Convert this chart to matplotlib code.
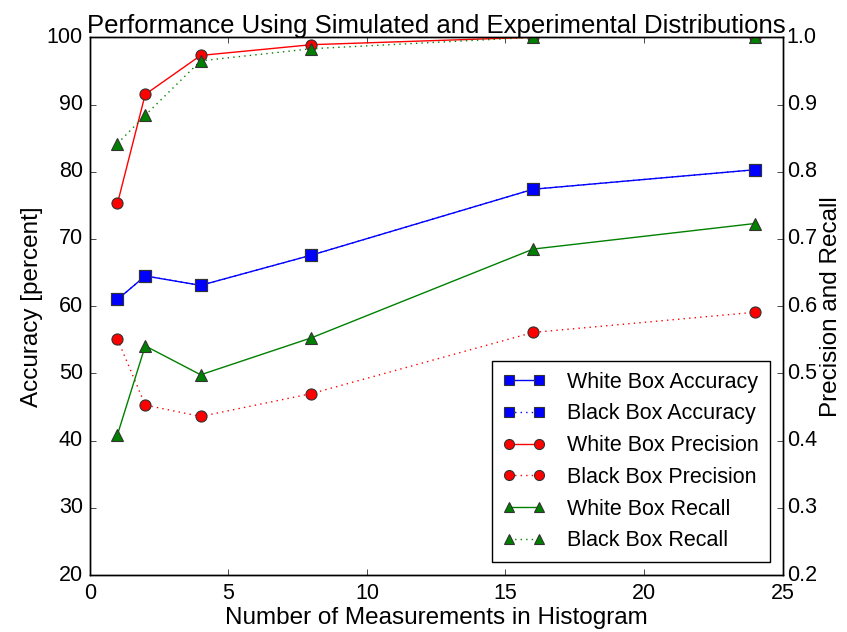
import matplotlib
matplotlib.use('Agg')
import matplotlib.pyplot as plt

plt.style.use('classic')
plt.rcParams['font.family'] = ['Liberation Sans', 'DejaVu Sans']

# number of measurements per histogram
n_meas = [1, 2, 4, 8, 16, 24]

# accuracy in percent (left axis)
wb_acc = [61.0, 64.5, 63.1, 67.6, 77.4, 80.3]
bb_acc = [61.0, 64.5, 63.1, 67.6, 77.4, 80.3]

# precision / recall (right axis)
wb_prec = [0.753, 0.915, 0.973, 0.989, 1.0, 1.0]
bb_prec = [0.551, 0.453, 0.436, 0.470, 0.561, 0.591]
wb_rec = [0.409, 0.541, 0.498, 0.553, 0.685, 0.723]
bb_rec = [0.842, 0.884, 0.965, 0.983, 1.0, 1.0]

fig = plt.figure(figsize=(8.47, 6.32), dpi=100, facecolor='white')
ax = fig.add_axes([0.106, 0.090, 0.818, 0.851])
ax2 = ax.twinx()

mk = dict(markersize=8, markeredgecolor='#333333', markeredgewidth=0.8)
h1, = ax.plot(n_meas, wb_acc, 'b-', marker='s', label='White Box Accuracy', **mk)
h2, = ax.plot(n_meas, bb_acc, 'b:', marker='s', label='Black Box Accuracy', **mk)
h3, = ax2.plot(n_meas, wb_prec, 'r-', marker='o', label='White Box Precision', **mk)
h4, = ax2.plot(n_meas, bb_prec, 'r:', marker='o', label='Black Box Precision', **mk)
h5, = ax2.plot(n_meas, wb_rec, 'g-', marker='^', label='White Box Recall', **mk)
h6, = ax2.plot(n_meas, bb_rec, 'g:', marker='^', label='Black Box Recall', **mk)

ax.set_xlim(0, 25)
ax.set_ylim(20, 100)
ax2.set_ylim(0.2, 1.0)

ax.tick_params(axis='y', labelsize=15.5, pad=5)
ax.tick_params(axis='x', labelsize=15.5, pad=6)
ax2.tick_params(labelsize=15.5, pad=3)
ax.set_xlabel('Number of Measurements in Histogram', fontsize=17.5, labelpad=2)
ax.set_ylabel('Accuracy [percent]', fontsize=17.5, labelpad=3)
ax2.set_ylabel('Precision and Recall', fontsize=17.5, labelpad=2)
ax.set_title('Performance Using Simulated and Experimental Distributions',
             fontsize=18.5, y=1.0, pad=3)

handles = [h1, h2, h3, h4, h5, h6]
leg = ax2.legend(handles, [h.get_label() for h in handles],
                 loc='lower right', fontsize=15.5, numpoints=2,
                 markerscale=0.9, handlelength=2.0, handletextpad=1.0,
                 borderpad=0.5, borderaxespad=0.6)

fig.savefig('out.png', dpi=100, facecolor='white')
